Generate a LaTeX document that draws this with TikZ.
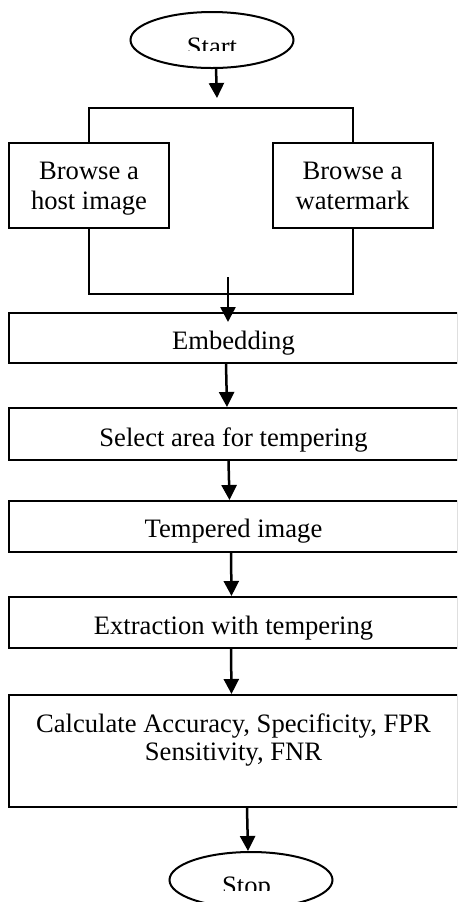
\documentclass[tikz,border=0pt]{standalone}
\usepackage{fontspec}
\setmainfont{Liberation Serif}
\usetikzlibrary{shapes.geometric,arrows.meta}
\begin{document}
\begin{tikzpicture}[x=0.5pt,y=-0.5pt,
  every node/.style={font=\fontsize{13.3}{15}\selectfont},
  boxline/.style={draw=black,line width=1pt,inner sep=0pt},
  smallbox/.style={boxline,rectangle,minimum width=80pt,minimum height=42.5pt,align=center,text depth=9.5pt,text height=33pt},
  widebox/.style={boxline,rectangle,minimum width=224.5pt},
  term/.style={boxline,ellipse,minimum width=81.5pt,minimum height=28pt},
  arr/.style={line width=1.25pt,-{Triangle[length=7.5pt,width=7.5pt]}},
  wire/.style={line width=1pt}]
\useasboundingbox (0,0) rectangle (457,902);
\clip (0,0) rectangle (457,902);
\fill[white] (0,0) rectangle (457,902);
% terminals
\node[term] (start) at (212,40) {};
\begin{scope}
  \clip (0,0) rectangle (457,50);
  \node[anchor=base,inner sep=0pt] (starttxt) at (212,55) {Start};
\end{scope}
% browse boxes
\node[smallbox] (host) at (89,185.5) {Browse a\\host image};
\node[smallbox] (wm) at (352.5,185.5) {Browse a\\watermark};
\coordinate (tl) at (89,108);
\coordinate (tr) at (352.5,108);
\coordinate (bl) at (89,294);
\coordinate (br) at (352.5,294);
\coordinate (startin) at (217,98);
\draw[wire] (host.north) -- (tl) -- (tr) -- (wm.north);
\draw[wire] (host.south) -- (bl) -- (br) -- (wm.south);
% main boxes
\node[widebox,minimum height=25pt,text depth=7pt,text height=18pt] (emb) at (233.5,338) {Embedding};
\node[widebox,minimum height=26pt,text depth=7pt,text height=19pt] (sel) at (233.5,434) {Select area for tempering};
\node[widebox,minimum height=25.5pt,text depth=7.5pt,text height=18pt] (temp) at (233.5,526.5) {Tempered image};
\node[widebox,minimum height=25.5pt,text depth=7pt,text height=18.5pt] (ext) at (233.5,622.5) {Extraction with tempering};
\node[widebox,minimum height=56pt,align=center,text depth=23.5pt,text height=32.5pt,font=\fontsize{13.3}{14}\selectfont] (calc) at (233.5,751) {Calculate Accuracy, Specificity, FPR\\Sensitivity, FNR};
% stop
\node[term] (stop) at (251,880) {};
\begin{scope}
  \clip (0,0) rectangle (457,890);
  \node[anchor=base,inner sep=0pt] (stoptxt) at (246.5,894) {Stop};
\end{scope}
% arrows
\coordinate (embin) at (228,322);
\coordinate (joinout) at (228,277);
\draw[arr] (start.south -| 216,0) -- (startin);
\draw[arr] (joinout) -- (embin);
\draw[arr] (emb.south -| 226,0) -- (sel.north -| 227,0);
\draw[arr] (sel.south -| 228.5,0) -- (temp.north -| 229.5,0);
\draw[arr] (temp.south -| 231,0) -- (ext.north -| 231.5,0);
\draw[arr] (ext.south -| 231,0) -- (calc.north -| 231.5,0);
\draw[arr] (calc.south -| 247,0) -- (stop.north -| 248,0);
\end{tikzpicture}
\end{document}
